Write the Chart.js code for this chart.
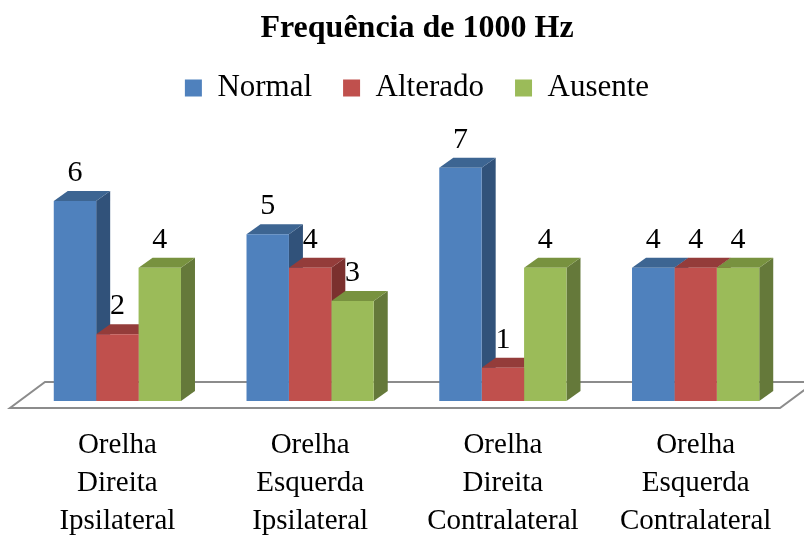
<!DOCTYPE html>
<html>
<head>
<meta charset="utf-8">
<script src="https://cdn.jsdelivr.net/npm/chart.js@4.4.1/dist/chart.umd.min.js"></script>
<style>
  body { margin: 0; background: #fff; }
  #wrap { width: 804px; height: 540px; }
</style>
</head>
<body>
<div id="wrap"><canvas id="freqChart"></canvas></div>
<script>
// data
const categories = [
  ['Orelha', 'Direita', 'Ipsilateral'],
  ['Orelha', 'Esquerda', 'Ipsilateral'],
  ['Orelha', 'Direita', 'Contralateral'],
  ['Orelha', 'Esquerda', 'Contralateral']
];
const seriesNames = ['Normal', 'Alterado', 'Ausente'];
const normal = [6, 5, 7, 4];
const alterado = [2, 4, 1, 4];
const ausente = [4, 3, 4, 4];

// colours: front, top, side
const frontColors = ['#4f81bd', '#c0504d', '#9bbb59'];
const topColors = ['#3d6592', '#943c3a', '#78923f'];
const sideColors = ['#31527a', '#7b302e', '#65793a'];

const depthX = 14;
const depthY = 10;
const serif = '"Liberation Serif", "Times New Roman", serif';

// draws floor + top and side faces, bars fronts are drawn by Chart.js after
const bar3d = {
  id: 'bar3d',
  beforeDatasetsDraw(chart) {
    const ctx = chart.ctx;
    const area = chart.chartArea;
    const base = chart.scales.y.getPixelForValue(0);

    ctx.save();
    // floor
    ctx.beginPath();
    ctx.moveTo(area.left - 11, base + 7);
    ctx.lineTo(area.right - 12, base + 7);
    ctx.lineTo(area.right + 23, base - 19);
    ctx.lineTo(area.left + 24, base - 19);
    ctx.closePath();
    ctx.fillStyle = '#ffffff';
    ctx.fill();
    ctx.strokeStyle = '#8c8c8c';
    ctx.lineWidth = 2;
    ctx.stroke();

    chart.data.datasets.forEach((ds, i) => {
      const meta = chart.getDatasetMeta(i);
      meta.data.forEach(bar => {
        const p = bar.getProps(['x', 'y', 'base', 'width'], true);
        const l = p.x - p.width / 2;
        const r = p.x + p.width / 2;
        const t = p.y;
        const b = p.base;

        // side face
        ctx.fillStyle = sideColors[i];
        ctx.beginPath();
        ctx.moveTo(r, b);
        ctx.lineTo(r, t);
        ctx.lineTo(r + depthX, t - depthY);
        ctx.lineTo(r + depthX, b - depthY);
        ctx.closePath();
        ctx.fill();

        // top face
        ctx.fillStyle = topColors[i];
        ctx.beginPath();
        ctx.moveTo(l, t);
        ctx.lineTo(r, t);
        ctx.lineTo(r + depthX, t - depthY);
        ctx.lineTo(l + depthX, t - depthY);
        ctx.closePath();
        ctx.fill();
      });
    });
    ctx.restore();
  },
  afterDatasetsDraw(chart) {
    const ctx = chart.ctx;
    ctx.save();
    ctx.font = '30px ' + serif;
    ctx.fillStyle = '#000';
    ctx.textAlign = 'center';
    ctx.textBaseline = 'middle';
    chart.data.datasets.forEach((ds, i) => {
      const meta = chart.getDatasetMeta(i);
      meta.data.forEach((bar, j) => {
        const p = bar.getProps(['x', 'y'], true);
        ctx.fillText(String(ds.data[j]), p.x, p.y - 28);
      });
    });
    ctx.restore();
  }
};

// Render Bar Chart
function renderBarChart() {
  const ctx = document.getElementById('freqChart');
  const values = [normal, alterado, ausente];

  new Chart(ctx, {
    type: 'bar',
    data: {
      labels: categories,
      datasets: seriesNames.map((name, i) => ({
        label: name,
        data: values[i],
        backgroundColor: frontColors[i],
        borderWidth: 0,
        barPercentage: 1,
        categoryPercentage: 0.66
      }))
    },
    options: {
      responsive: true,
      maintainAspectRatio: false,
      animation: false,
      layout: {
        // negative right + hidden right axis: title and legend sit a bit right of centre
        padding: { left: 21, right: -9, top: 0, bottom: 3 }
      },
      plugins: {
        title: {
          display: true,
          text: 'Frequência de 1000 Hz',
          color: '#000',
          font: { family: serif, size: 32, weight: 'bold' },
          padding: { top: 10, bottom: -7 }
        },
        legend: {
          display: true,
          labels: {
            color: '#000',
            boxWidth: 17,
            boxHeight: 17,
            padding: 31,
            font: { family: serif, size: 31 }
          }
        },
        tooltip: { enabled: false }
      },
      scales: {
        x: {
          grid: { display: false },
          border: { display: false },
          afterFit(scale) {
            scale.height = 136;
          },
          ticks: {
            color: '#000',
            padding: 18,
            maxRotation: 0,
            autoSkip: false,
            font: { family: serif, size: 29, lineHeight: 1.3 }
          }
        },
        y: {
          position: 'right',
          min: 0,
          max: 8.63,
          grid: { display: false },
          border: { display: false },
          ticks: { display: false },
          afterFit(scale) {
            scale.width = 21;
          }
        }
      }
    },
    plugins: [bar3d]
  });
}

renderBarChart();
</script>
</body>
</html>
